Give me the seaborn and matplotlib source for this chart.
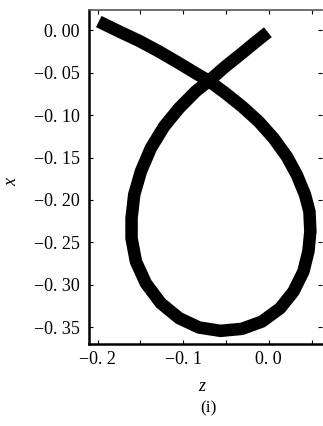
import matplotlib
matplotlib.use("Agg")
import matplotlib.pyplot as plt
import seaborn as sns
import pandas as pd
from matplotlib.ticker import FixedLocator, FixedFormatter

sns.set_theme(style="white")
plt.rcParams['font.family'] = ['Liberation Serif', 'DejaVu Serif']

# curve (z horizontal, x vertical), in drawing order
z_vals = [-0.1986, -0.1746, -0.1514, -0.1281, -0.1048, -0.0855, -0.0700,
          -0.0506, -0.0312, -0.0118, 0.0056, 0.0211, 0.0328, 0.0424, 0.0475,
          0.0486, 0.0463, 0.0405, 0.0289, 0.0134, -0.0079, -0.0312, -0.0564,
          -0.0816, -0.1048, -0.1262, -0.1436, -0.1552, -0.1603, -0.1603,
          -0.1572, -0.1494, -0.1378, -0.1223, -0.1048, -0.0855, -0.0700,
          -0.0506, -0.0312, -0.0157, -0.0010]
x_vals = [0.0104, -0.0014, -0.0124, -0.0250, -0.0387, -0.0505, -0.0596,
          -0.0741, -0.0898, -0.1075, -0.1272, -0.1488, -0.1704, -0.1940, -0.2136,
          -0.2372, -0.2608, -0.2844, -0.3080, -0.3276, -0.3434, -0.3520, -0.3544,
          -0.3504, -0.3394, -0.3217, -0.2982, -0.2726, -0.2451, -0.2215,
          -0.1940, -0.1665, -0.1390, -0.1134, -0.0918, -0.0721, -0.0596,
          -0.0426, -0.0269, -0.0140, -0.0022]

xticks = [-0.2, -0.15, -0.1, -0.05, 0.0, 0.05]
xtick_labels = ["\u22120. 2", "", "\u22120. 1", "", "0. 0", ""]
yticks = [0.0, -0.05, -0.10, -0.15, -0.20, -0.25, -0.30, -0.35]
ytick_labels = ["0. 00", "\u22120. 05", "\u22120. 10", "\u22120. 15", "\u22120. 20",
                "\u22120. 25", "\u22120. 30", "\u22120. 35"]

df = pd.DataFrame({"z": z_vals, "x": x_vals})

fig = plt.figure(figsize=(3.23, 4.26), dpi=100)
ax = fig.add_axes([89/323, 1-343.5/426, (322-89)/323, (343.5-10)/426])

sns.lineplot(data=df, x="z", y="x", sort=False, estimator=None, color="black",
             linewidth=9, ax=ax, solid_capstyle="butt", solid_joinstyle="round")

ax.set_xlim(-0.2100, 0.0622)
ax.set_ylim(-0.3693, 0.0240)
ax.xaxis.set_major_locator(FixedLocator(xticks))
ax.xaxis.set_major_formatter(FixedFormatter(xtick_labels))
ax.yaxis.set_major_locator(FixedLocator(yticks))
ax.yaxis.set_major_formatter(FixedFormatter(ytick_labels))
ax.tick_params(direction="in", length=3, width=0.8, color="black",
               top=True, right=True, bottom=True, left=True,
               labelsize=13, labelcolor="black")
ax.tick_params(axis="x", pad=5.5)
ax.tick_params(axis="y", pad=6.5)

for s in ["left", "bottom"]:
    ax.spines[s].set_color("black")
    ax.spines[s].set_linewidth(1.8)
ax.spines["top"].set_color("#555555")
ax.spines["top"].set_linewidth(1.2)
ax.spines["right"].set_visible(False)

ax.set_xlabel("z", fontsize=13, fontstyle="italic", color="black", va="center")
ax.set_ylabel("x", fontsize=13, fontstyle="italic", color="black", va="center")
ax.xaxis.set_label_coords((201.7-89)/233, (343.5-386.7)/333.5)
ax.yaxis.set_label_coords((11.7-89)/233, (343.5-181.7)/333.5)
fig.text(208/323, 1-408/426, "(i)", fontsize=12.5, ha="center", va="center", color="black")

fig.savefig("out.png", dpi=100)
